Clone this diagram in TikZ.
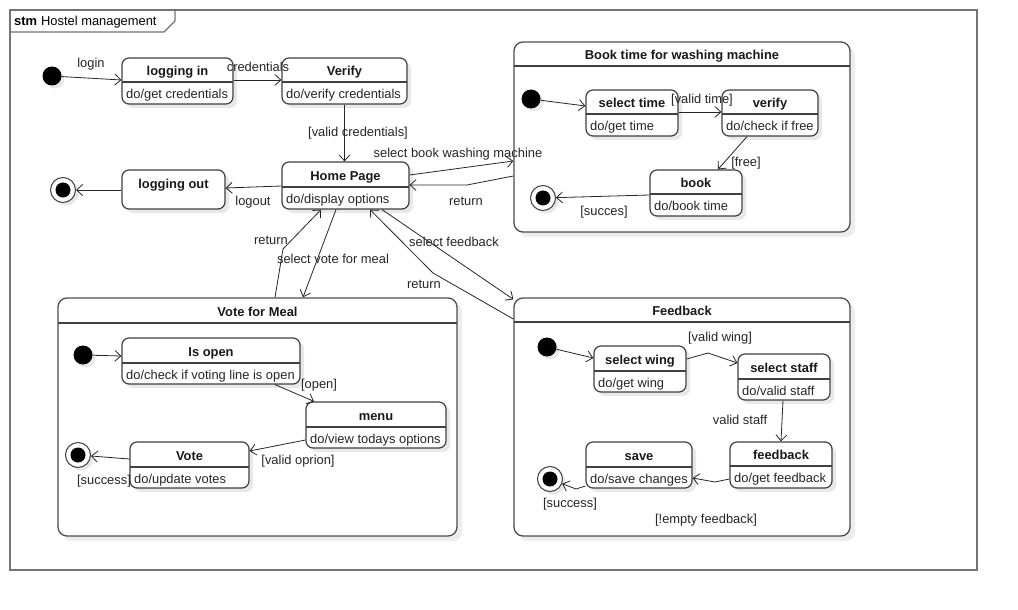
\documentclass[tikz,border=0pt]{standalone}
\usepackage{fontspec}
\setmainfont{Liberation Sans}
\usetikzlibrary{arrows.meta,shadows,calc}
\newcommand{\ustate}[8]{%
  \node[sbox, minimum width={#4-#2}, minimum height={#5-#3}] (#1) at ({(#2+#4)/2},{(#3+#5)/2}) {};
  \draw[sline] (#2,#6) -- (#4,#6);
  \node[stitle] (#1-t) at ({(#2+#4)/2},{(#3+#6)/2}) {#7};
  \node[sbody, anchor=west] (#1-b) at (#2+4,{(#6+#5)/2}) {#8};
}
\newcommand{\ucomp}[7]{%
  \node[cbox, minimum width={#4-#2}, minimum height={#5-#3}] (#1) at ({(#2+#4)/2},{(#3+#5)/2}) {};
  \draw[sline] (#2,#6) -- (#4,#6);
  \node[stitle] (#1-t) at ({(#2+#4)/2},{(#3+#6)/2}) {#7};
}
\begin{document}
\begin{tikzpicture}[x=1pt,y=-1pt,
  font=\fontsize{12.9}{15}\selectfont,
  sbox/.style={draw=black!75, line width=1.2pt, rounded corners=7pt, fill=white, inner sep=0pt,
    drop shadow={fill=black!9, opacity=1, shadow xshift=4pt, shadow yshift=-4pt}},
  cbox/.style={draw=black!70, line width=1.3pt, rounded corners=9pt, fill=white, inner sep=0pt,
    drop shadow={fill=black!7, opacity=1, shadow xshift=5pt, shadow yshift=-5pt}},
  sline/.style={draw=black!75, line width=1.2pt},
  stitle/.style={font=\fontsize{12.9}{15}\selectfont\bfseries, text=black!90, inner sep=0pt, text height=11.4pt, text depth=0pt},
  sbody/.style={inner sep=0pt, text=black!85, text height=11.4pt, text depth=0pt},
  lbl/.style={inner sep=0pt, text=black!85, text height=11.4pt, text depth=0pt},
  trans/.style={draw=black!85, line width=0.8pt, -{Straight Barb[length=6pt,width=11pt,line width=0.8pt]}},
  initst/.style={circle, fill=black, minimum size=19pt, inner sep=0pt,
    drop shadow={fill=black!9, opacity=1, shadow xshift=3pt, shadow yshift=-3pt}},
  finst/.style={circle, draw=black!75, line width=1pt, fill=white, minimum size=25pt, inner sep=0pt,
    drop shadow={fill=black!9, opacity=1, shadow xshift=3pt, shadow yshift=-3pt},
    path picture={\fill[black] (path picture bounding box.center) circle (7.5pt);}},
  frame/.style={draw=black!55, line width=1.4pt}
]
\useasboundingbox (0,0) rectangle (1018,610);
\fill[white] (0,0) rectangle (1018,610);

% outer frame
\draw[frame] (10,10) rectangle (977,570);
\draw[frame] (10,32) -- (164,32) -- (175,21) -- (175,10);
\node[anchor=west, inner sep=0pt, text height=11.4pt, text depth=0pt] (tab) at (14,20) {\textbf{stm}\hspace{4pt}Hostel management};

% composites
\ucomp{wash}{514}{42}{850}{232}{66}{Book time for washing machine}
\ucomp{vote}{58}{298}{457}{536}{323}{Vote for Meal}
\ucomp{fb}{514}{298}{850}{536}{322}{Feedback}

% top level states
\node[initst] (i0) at (52,76) {};
\ustate{login}{122}{58}{233}{104}{82}{logging in}{do/get credentials}
\ustate{verify}{282}{58}{407}{104}{82}{Verify}{do/verify credentials}
\ustate{home}{282}{162}{409}{209}{187}{Home Page}{do/display options}
\node[sbox, minimum width=103, minimum height=39] (logout) at (173.5,189.5) {};
\node[stitle] (logout-t) at (173.5,183) {logging out};
\node[finst] (f0) at (63,190) {};

% washing machine
\node[initst] (i1) at (531,99) {};
\ustate{st}{586}{90}{678}{136}{114}{select time}{do/get time}
\ustate{vf}{722}{90}{818}{136}{114}{verify}{do/check if free}
\ustate{bk}{650}{170}{742}{216}{194}{book}{do/book time}
\node[finst] (f1) at (543,198) {};

% vote for meal
\node[initst] (i2) at (83,355) {};
\ustate{io}{122}{338}{300}{384}{363}{Is open}{do/check if voting line is open}
\ustate{menu}{306}{402}{446}{448}{427}{menu}{do/view todays options}
\ustate{vt}{130}{442}{249}{488}{467}{Vote}{do/update votes}
\node[finst] (f2) at (78,455) {};

% feedback
\node[initst] (i3) at (547,347) {};
\ustate{sw}{594}{346}{686}{392}{371}{select wing}{do/get wing}
\ustate{ss}{738}{354}{830}{400}{379}{select staff}{do/valid staff}
\ustate{fbk}{730}{442}{832}{488}{466}{feedback}{do/get feedback}
\ustate{sv}{586}{442}{692}{488}{467}{save}{do/save changes}
\node[finst] (f3) at (550,479) {};

% ---- transitions, top level
\draw[trans] (i0) -- (login.west |- 0,80) node[lbl] (l1) at (91,62) {login};
\draw[trans] (login.east |- 0,80) -- (verify.west |- 0,80) node[lbl] (l2) at (258,66) {credentials};
\draw[trans] (verify.south) -- (verify.south |- home.north) node[lbl] (l3) at (358,131) {[valid credentials]};
\draw[trans] (home.west |- 0,186) -- (logout.east |- 0,188) node[lbl] (l4) at (253,200) {logout};
\draw[trans] (logout.west |- 0,190) -- (f0);
\draw[trans] (home.east |- 0,175) -- (wash.west |- 0,161) node[lbl] (l5) at (458,152) {select book washing machine};
\draw[trans] (wash.west |- 0,176) -- (467,185) -- (home.east |- 0,185) node[lbl] (l6) at (466,200) {return};
\draw[trans] (home.south -| 336,0) -- (vote.north -| 303,0) node[lbl] (l7) at (333,258) {select vote for meal};
\draw[trans] (vote.north -| 275,0) -- (283,249) -- (home.south -| 321,0) node[lbl] (l8) at (271,239) {return};
\draw[trans] (home.south -| 382,0) -- ([yshift=-2pt]fb.north west) node[lbl] (l9) at (454,241) {select feedback};
\draw[trans] (fb.west |- 0,319) -- (433,273) -- (home.south -| 370,0) node[lbl] (l10) at (424,283) {return};

% washing machine transitions
\draw[trans] (i1) -- (st.west |- 0,106);
\draw[trans] (st.east |- 0,112) -- (vf.west |- 0,112) node[lbl] (l11) at (702,98) {[valid time]};
\draw[trans] (vf.south -| 747,0) -- (bk.north -| 718,0) node[lbl] (l12) at (746,161) {[free]};
\draw[trans] (bk.west |- 0,195) -- (f1) node[lbl] (l13) at (604,210) {[succes]};

% vote transitions
\draw[trans] (i2) -- (io.west |- 0,356);
\draw[trans] (io.south -| 275,0) -- (menu.north -| 314,0) node[lbl] (l14) at (319,383) {[open]};
\draw[trans] (menu.west |- 0,440) -- (vt.east |- 0,451) node[lbl] (l15) at (298,459) {[valid oprion]};
\draw[trans] (vt.west |- 0,459) -- (f2) node[lbl] (l16) at (104,479) {[success]};

% feedback transitions
\draw[trans] (i3) -- (sw.west |- 0,358);
\draw[trans] (sw.east |- 0,359) -- (708,353) -- (ss.west |- 0,363) node[lbl] (l17) at (720,336) {[valid wing]};
\draw[trans] (ss.south -| 783,0) -- (fbk.north -| 781,0) node[lbl] (l18) at (740,419) {valid staff};
\draw[trans] (fbk.west |- 0,479) -- (715,482) -- (sv.east |- 0,478) node[lbl] (l19) at (706,518) {[!empty feedback]};
\draw[trans] (sv.west |- 0,486) -- (576,489) -- (f3) node[lbl] (l20) at (570,502) {[success]};
\end{tikzpicture}
\end{document}
